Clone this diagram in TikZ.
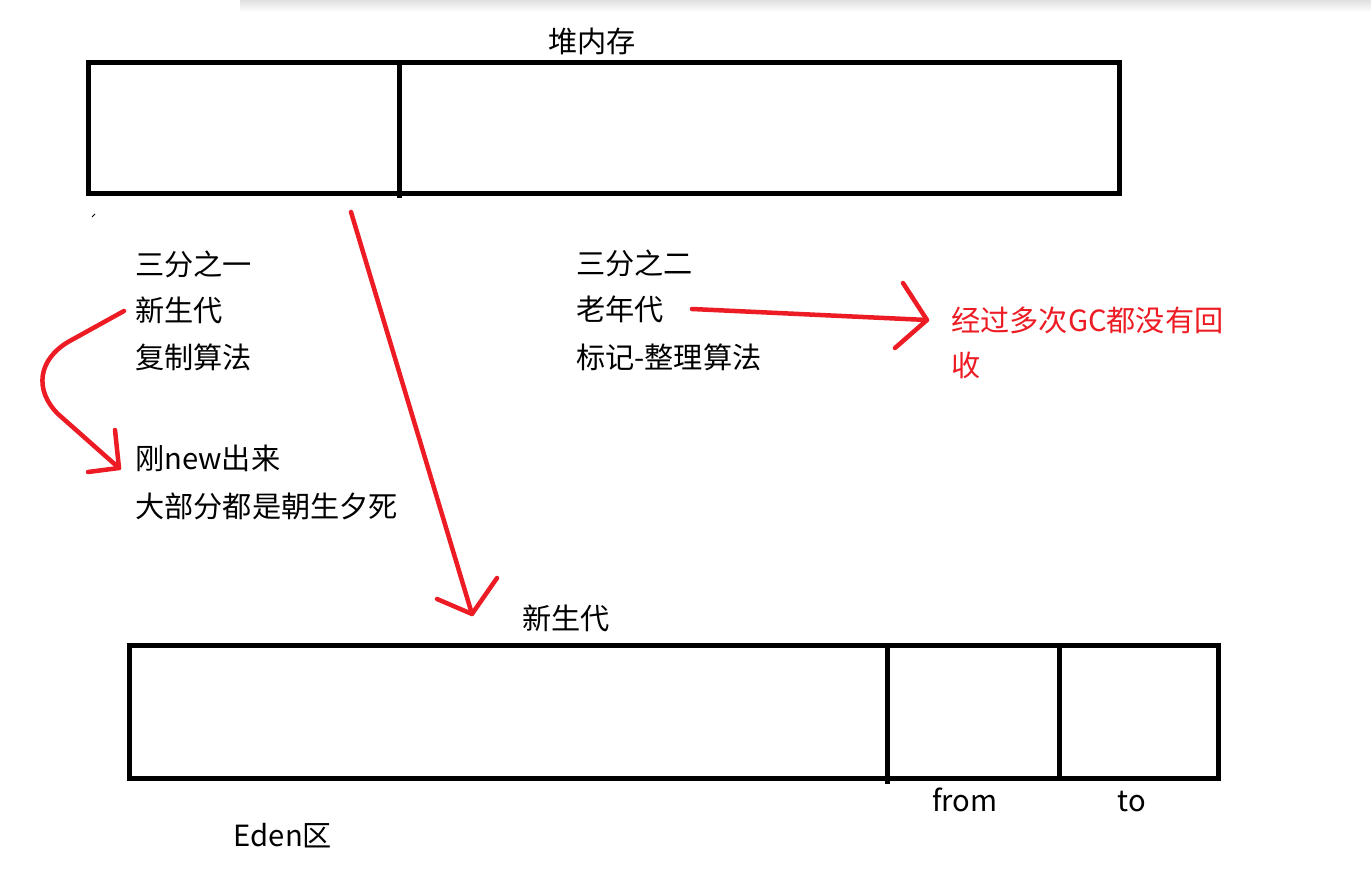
\documentclass[tikz,border=0pt]{standalone}
\usepackage{fontspec}
\setmainfont{Noto Sans CJK SC}
\begin{document}
\begin{tikzpicture}[x=1pt,y=-1pt,
  txt/.style={inner sep=0pt,anchor=base west,font=\fontsize{29.2}{34}\selectfont},
  ctxt/.style={inner sep=0pt,anchor=base,font=\fontsize{29.2}{34}\selectfont},
  redtxt/.style={txt,text=myred},
  box/.style={draw=black,line width=5pt},
  redline/.style={draw=myred,line width=4.5pt,line cap=round,line join=round}]
\definecolor{myred}{RGB}{237,28,36}
\useasboundingbox (0,0) rectangle (1371,877);
\fill[white] (0,0) rectangle (1371,877);
\shade[top color=black!12,bottom color=white] (240,0) rectangle (1371,12);
% top heap box
\draw[box] (88,63) rectangle (1119,194);
\draw[box] (399,63) -- (399,198);
\node[ctxt] (heap) at (592,53) {堆内存};
\draw[line width=1pt] (92,217) -- (95,214);
% left texts
\node[txt] (t1) at (135,276) {三分之一};
\node[txt] (t2) at (135,322) {新生代};
\node[txt] (t3) at (135,368) {复制算法};
\node[txt] (t4) at (135,469) {刚new出来};
\node[txt] (t5) at (135,517) {大部分都是朝生夕死};
% middle texts
\node[txt] (m1) at (576,275) {三分之二};
\node[txt] (m2) at (576,321) {老年代};
\node[txt] (m3) at (576,368) {标记-整理算法};
% red text
\node[redtxt] (r1) at (951,331) {经过多次GC都没有回};
\node[redtxt] (r2) at (951,377) {收};
% bottom box
\node[ctxt] (young) at (566,629) {新生代};
\draw[box] (129,645) rectangle (1218,778);
\draw[box] (887,645) -- (887,784);
\draw[box] (1059,645) -- (1059,781);
\node[ctxt] (from) at (965,811) {from};
\node[ctxt] (to) at (1132,811) {to};
\node[ctxt] (eden) at (283,846) {Eden区};
% arrows
\coordinate (a1s) at (351,212);
\coordinate (a1e) at (472,614);
\draw[redline] (a1s) -- (a1e);
\draw[redline] (437,599) -- (a1e) -- (497,578);
\coordinate (a2s) at (692,309);
\coordinate (a2e) at (927,320);
\draw[redline] (a2s) -- (a2e);
\draw[redline] (903,283) -- (a2e) -- (895,348);
\coordinate (a3s) at (124,311);
\coordinate (a3e) at (119,468);
\draw[redline] (a3s) -- (68,342) .. controls (38,360) and (34,390) .. (58,414) -- (a3e);
\draw[redline] (115,430) -- (a3e) -- (88,472);
\end{tikzpicture}
\end{document}
